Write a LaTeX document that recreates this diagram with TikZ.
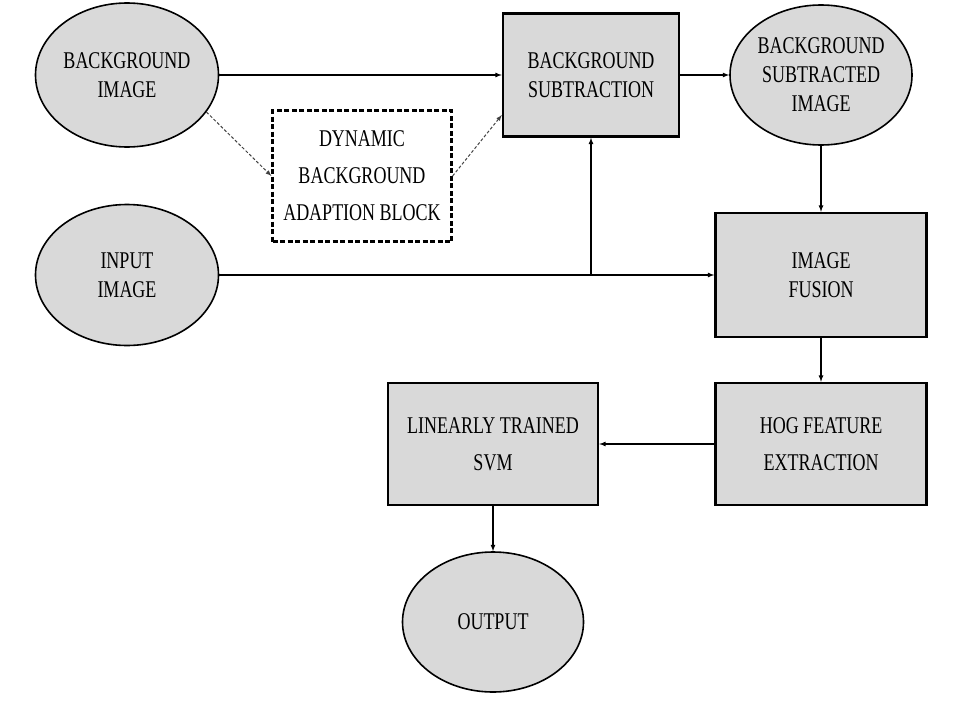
\documentclass[tikz,border=0pt]{standalone}
\usepackage{fontspec}
\setmainfont[FakeStretch=0.75]{Liberation Serif}
\usepackage{tikz}
\usetikzlibrary{shapes.geometric}
\usetikzlibrary{arrows}

\begin{document}
\begin{tikzpicture}[x=1pt, y=-1pt,
	blob/.style={shape=ellipse, draw, line width=1.6pt, fill=gray!30, inner sep=0pt, align=center, font=\rmfamily\fontsize{24}{29}\selectfont},
	block/.style={shape=rectangle, draw, line width=2.4pt, fill=gray!30, inner sep=0pt, align=center, font=\rmfamily\fontsize{24}{29}\selectfont},
	loose/.style={font=\rmfamily\fontsize{24}{37}\selectfont},
	wire/.style={-latex, line width=1.2pt},
	dashwire/.style={-latex, line width=1pt, black!75, dash pattern=on 3pt off 2pt}]
	\useasboundingbox (0,0) rectangle (960,720);
	% Paths, nodes and wires:
	\node[blob, minimum width=183pt, minimum height=144pt](BG) at (127,75){BACKGROUND\\IMAGE};
	\node[blob, minimum width=183pt, minimum height=141pt](IN) at (127,275){INPUT\\IMAGE};
	\node[shape=rectangle, draw, line width=2.2pt, dash pattern=on 5pt off 2.5pt, fill=white, align=center, loose, minimum width=179pt, minimum height=131pt](DBA) at (362,176){DYNAMIC\\BACKGROUND\\ADAPTION BLOCK};
	\node[block, minimum width=176pt, minimum height=123pt](BS) at (591,75){BACKGROUND\\SUBTRACTION};
	\node[blob, minimum width=182pt, minimum height=140pt](BSI) at (821,75){BACKGROUND\\SUBTRACTED\\IMAGE};
	\node[block, minimum width=211pt, minimum height=124pt](IF) at (821,275){IMAGE\\FUSION};
	\node[block, loose, minimum width=211pt, minimum height=122pt](HOG) at (821,444){HOG FEATURE\\EXTRACTION};
	\node[block, loose, minimum width=210pt, minimum height=122pt](SVM) at (493,444){LINEARLY TRAINED\\SVM};
	\node[blob, minimum width=181pt, minimum height=140pt](OUT) at (493,622){OUTPUT};
	\coordinate (split) at (BS.south |- IN.east);
	\draw[wire] (BG) -- (BS);
	\draw[dashwire] (BG.-25) -- (DBA.west);
	\draw[dashwire] (DBA.east) -- ([yshift=-40pt]BS.west);
	\draw[wire] (IN) -- (IF);
	\draw[wire] (split) -- (BS.south);
	\draw[wire] (BS) -- (BSI);
	\draw[wire] (BSI) -- (IF);
	\draw[wire] (IF) -- (HOG);
	\draw[wire] (HOG) -- (SVM);
	\draw[wire] (SVM) -- (OUT);
\end{tikzpicture}
\end{document}
